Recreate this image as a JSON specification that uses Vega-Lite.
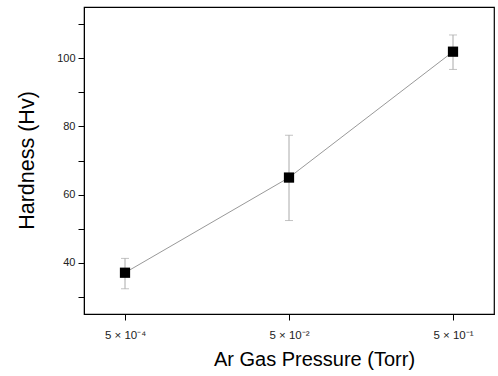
{
  "$schema": "https://vega.github.io/schema/vega-lite/v6.json",
  "autosize": {"type": "none"},
  "padding": {"left": 84, "top": 7, "right": 4, "bottom": 62},
  "width": 410,
  "height": 307,
  "background": "white",
  "config": {
    "view": {"stroke": "#000", "strokeWidth": 1.2},
    "font": "Liberation Sans"
  },
  "data": {
    "values": [
      {"pressure": "5 × 10⁻⁴", "order": 1, "hv": 37.1, "lo": 32.4, "hi": 41.3},
      {"pressure": "5 × 10⁻²", "order": 2, "hv": 65.0, "lo": 52.4, "hi": 77.4},
      {"pressure": "5 × 10⁻¹", "order": 3, "hv": 101.9, "lo": 96.7, "hi": 106.8}
    ]
  },
  "encoding": {
    "x": {
      "field": "pressure",
      "type": "ordinal",
      "sort": {"field": "order"},
      "scale": {"type": "point", "padding": 0.25},
      "axis": {
        "title": "Ar Gas Pressure (Torr)",
        "titleFont": "Liberation Sans",
        "titleFontSize": 20,
        "titleFontWeight": "normal",
        "titleColor": "#000",
        "titleX": 230,
        "titleY": 45,
        "titleBaseline": "middle",
        "labelAngle": 0,
        "labelFontSize": 11.5,
        "labelColor": "#222",
        "labelPadding": 9,
        "tickSize": 6,
        "tickColor": "#000",
        "domainColor": "#000",
        "grid": false
      }
    },
    "y": {
      "field": "hv",
      "type": "quantitative",
      "scale": {"domain": [25, 115], "nice": false, "zero": false},
      "axis": {
        "title": "Hardness (Hv)",
        "titleFont": "Liberation Sans",
        "titleFontSize": 21.5,
        "titleFontWeight": "normal",
        "titleColor": "#000",
        "titleX": -57,
        "titleY": 153,
        "titleBaseline": "middle",
        "values": [30, 40, 50, 60, 70, 80, 90, 100, 110],
        "labelExpr": "(datum.value == 40 || datum.value == 60 || datum.value == 80 || datum.value == 100) ? datum.label : ''",
        "labelOverlap": false,
        "labelFontSize": 11,
        "labelColor": "#222",
        "labelPadding": 3,
        "tickSize": 6,
        "tickColor": "#000",
        "domainColor": "#000",
        "grid": false
      }
    }
  },
  "layer": [
    {
      "mark": {"type": "rule", "color": "#aaaaaa", "strokeWidth": 1},
      "encoding": {
        "y": {"field": "lo", "type": "quantitative"},
        "y2": {"field": "hi"}
      }
    },
    {
      "mark": {"type": "tick", "color": "#aaaaaa", "thickness": 1, "size": 8},
      "encoding": {"y": {"field": "lo", "type": "quantitative"}}
    },
    {
      "mark": {"type": "tick", "color": "#aaaaaa", "thickness": 1, "size": 8},
      "encoding": {"y": {"field": "hi", "type": "quantitative"}}
    },
    {
      "mark": {"type": "line", "color": "#999999", "strokeWidth": 1},
      "encoding": {
        "order": {"field": "order"}
      }
    },
    {
      "mark": {"type": "point", "shape": "square", "filled": true, "color": "#000", "size": 105, "opacity": 1},
      "encoding": {}
    }
  ]
}
